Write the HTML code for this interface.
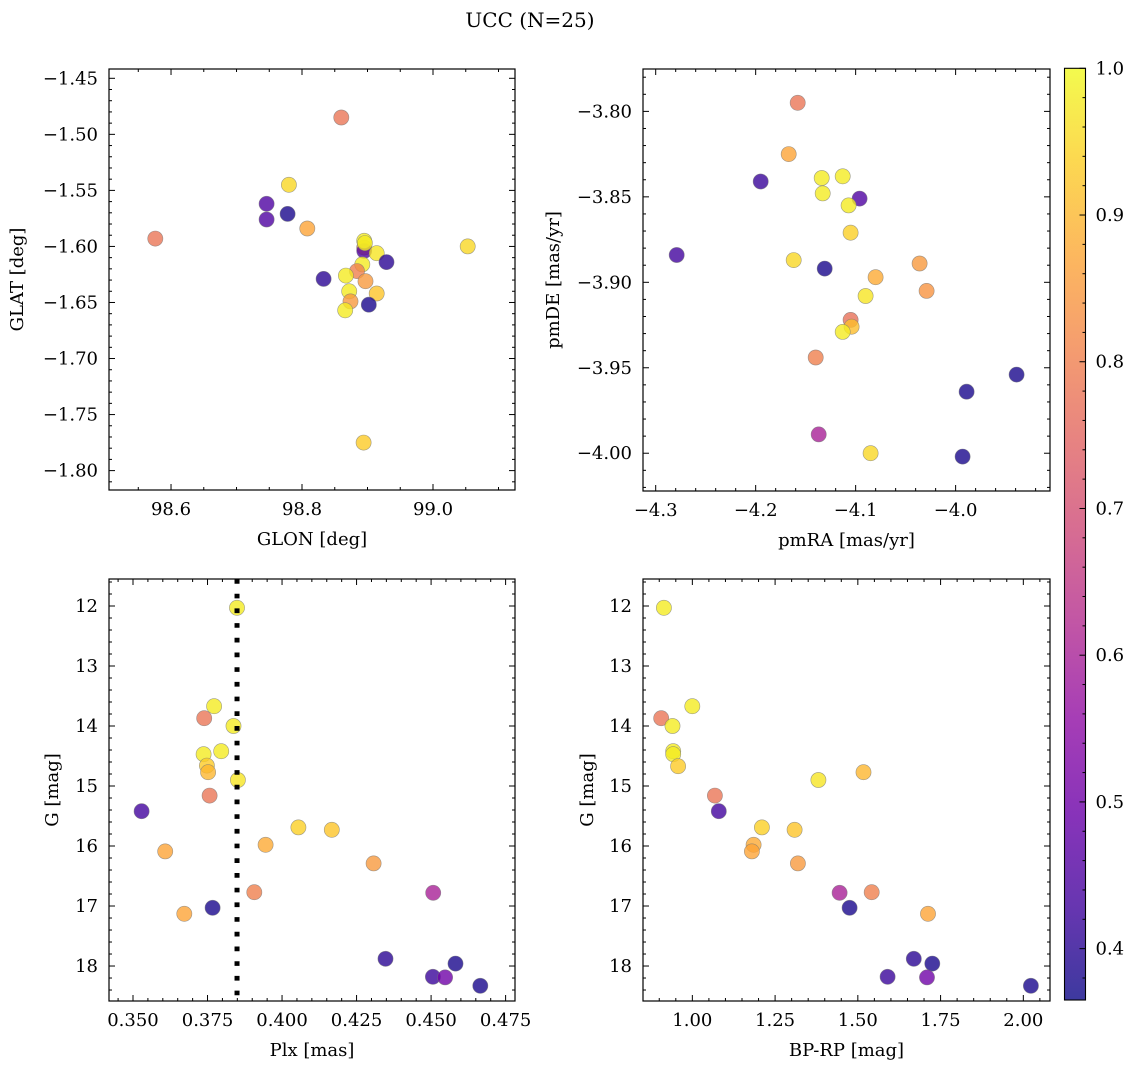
<!DOCTYPE html>
<html>
<head>
<meta charset="utf-8">
<style>
html,body{margin:0;padding:0;background:#fff;}
svg{display:block;font-family:"DejaVu Serif","Liberation Serif",serif;}
</style>
</head>
<body>
<svg id="fig" width="1136" height="1068" viewBox="0 0 1136 1068" xmlns="http://www.w3.org/2000/svg">
<defs>
<linearGradient id="plasma" x1="0" y1="1" x2="0" y2="0">
<stop offset="0" stop-color="#0d0887"/><stop offset="0.1" stop-color="#41049d"/><stop offset="0.2" stop-color="#6a00a8"/><stop offset="0.3" stop-color="#8f0da4"/><stop offset="0.4" stop-color="#b12a90"/><stop offset="0.5" stop-color="#cc4778"/><stop offset="0.6" stop-color="#e16462"/><stop offset="0.7" stop-color="#f2844b"/><stop offset="0.8" stop-color="#fca636"/><stop offset="0.9" stop-color="#fcce25"/><stop offset="1" stop-color="#f0f921"/>
</linearGradient>
</defs>
<text x="530" y="27" font-size="20" text-anchor="middle">UCC (N=25)</text>
</svg>
<script>
// Panel 1 data (GLON / GLAT)
const glon = [98.780,98.746,98.746,98.778,98.808,98.576,98.895,98.895,98.895,98.914,99.053,98.929,98.892,98.884,98.867,98.833,98.897,98.872,98.914,98.874,98.902,98.866,98.894,98.860,98.896];
const glat = [-1.545,-1.562,-1.576,-1.571,-1.584,-1.593,-1.601,-1.604,-1.595,-1.606,-1.600,-1.614,-1.616,-1.622,-1.626,-1.629,-1.631,-1.640,-1.642,-1.649,-1.652,-1.657,-1.775,-1.485,-1.597];
const prob1 = [0.95,0.45,0.45,0.38,0.87,0.78,0.85,0.45,0.98,0.97,0.95,0.40,0.98,0.80,0.98,0.40,0.85,0.98,0.92,0.85,0.38,0.98,0.93,0.78,0.98];
// Panel 2 data (pmRA / pmDE)
const pmra = [-4.158,-4.167,-4.195,-4.134,-4.113,-4.133,-4.096,-4.107,-4.105,-4.279,-4.162,-4.131,-4.036,-4.080,-4.029,-4.090,-4.105,-4.104,-4.113,-4.140,-3.989,-3.939,-4.137,-4.085,-3.993];
const pmde = [-3.795,-3.825,-3.841,-3.839,-3.838,-3.848,-3.851,-3.855,-3.871,-3.884,-3.887,-3.892,-3.889,-3.897,-3.905,-3.908,-3.922,-3.926,-3.929,-3.944,-3.964,-3.954,-3.989,-4.000,-4.002];
const prob2 = [0.78,0.87,0.42,0.98,0.98,0.98,0.45,0.98,0.94,0.43,0.95,0.38,0.85,0.88,0.84,0.97,0.77,0.91,0.98,0.80,0.38,0.38,0.60,0.95,0.38];
// Panel 3 data (Plx / G)
const plx = [0.3849,0.3772,0.3739,0.3837,0.3796,0.3737,0.3748,0.3752,0.3852,0.3757,0.3529,0.4055,0.4167,0.3945,0.3608,0.4307,0.3907,0.4507,0.3767,0.3672,0.4347,0.4582,0.4506,0.4547,0.4665];
const gmag3 = [12.03,13.67,13.87,14.00,14.42,14.47,14.66,14.77,14.90,15.16,15.42,15.69,15.73,15.98,16.09,16.29,16.77,16.78,17.03,17.13,17.88,17.96,18.18,18.19,18.33];
const prob3 = [0.98,0.98,0.78,0.98,0.98,0.98,0.93,0.90,0.97,0.78,0.43,0.94,0.92,0.88,0.87,0.85,0.80,0.60,0.38,0.87,0.40,0.38,0.42,0.50,0.38];
const plxLine = [0.3849];
// Panel 4 data (BP-RP / G)
const bprp = [0.914,1.000,0.906,0.940,0.942,0.942,0.957,1.381,1.517,1.068,1.080,1.210,1.309,1.185,1.180,1.319,1.445,1.542,1.475,1.712,1.669,1.725,1.590,1.709,2.023];
const gmag4 = [12.03,13.67,13.87,14.00,14.42,14.47,14.67,14.90,14.77,15.16,15.42,15.69,15.73,15.98,16.09,16.29,16.78,16.77,17.03,17.13,17.88,17.96,18.18,18.19,18.33];
const prob4 = [0.98,0.98,0.78,0.98,0.98,0.98,0.93,0.97,0.90,0.78,0.43,0.94,0.92,0.88,0.87,0.85,0.60,0.80,0.38,0.87,0.40,0.38,0.42,0.50,0.38];
// Tick labels
const ticks1x = [98.6,98.8,99.0];
const ticks1y = [-1.45,-1.50,-1.55,-1.60,-1.65,-1.70,-1.75,-1.80];
const ticks2x = [-4.3,-4.2,-4.1,-4.0];
const ticks2y = [-3.80,-3.85,-3.90,-3.95,-4.00];
const ticks3x = [0.350,0.375,0.400,0.425,0.450,0.475];
const ticksG = [12,13,14,15,16,17,18];
const ticks4x = [1.00,1.25,1.50,1.75,2.00];
const ticksCb = [0.4,0.5,0.6,0.7,0.8,0.9,1.0];
const cbRange = [0.365,1.0];

const NS = "http://www.w3.org/2000/svg";
const svg = document.getElementById('fig');
function mk(tag, attrs, parent){
  const e = document.createElementNS(NS, tag);
  for (const k in attrs) e.setAttribute(k, attrs[k]);
  (parent||svg).appendChild(e);
  return e;
}
const stops = ["#0d0887","#41049d","#6a00a8","#8f0da4","#b12a90","#cc4778","#e16462","#f2844b","#fca636","#fcce25","#f0f921"];
function hex(h){return [parseInt(h.substr(1,2),16),parseInt(h.substr(3,2),16),parseInt(h.substr(5,2),16)];}
function plasma(v){
  let t = (v-cbRange[0])/(cbRange[1]-cbRange[0]);
  t = Math.max(0,Math.min(1,t))*10;
  const i = Math.min(9,Math.floor(t)), f = t-i;
  const a = hex(stops[i]), b = hex(stops[i+1]);
  return "rgb("+a.map((c,k)=>Math.round(c+(b[k]-c)*f)).join(",")+")";
}
function lin(d0,d1,r0,r1){return v=>r0+(v-d0)/(d1-d0)*(r1-r0);}
function fmt(v,dec){const s=v.toFixed(dec);return s.replace('-','\u2212');}

function panel(cfg){
  const {x0,x1,y0,y1,xd,yd,xt,yt,xminor,yminor,xdec,ydec,name} = cfg;
  const sx = lin(xd[0],xd[1],x0,x1), sy = lin(yd[0],yd[1],y0,y1);
  const g = mk('g',{});
  
  
  const pg = mk('g',{},g);
  
  
  for (let i=0;i<cfg.xs.length;i++){
    const c = mk('circle',{cx:sx(cfg.xs[i]).toFixed(1),cy:sy(cfg.ys[i]).toFixed(1),r:7.6,fill:plasma(cfg.cs[i]),'fill-opacity':0.8,stroke:'#777','stroke-opacity':0.7,'stroke-width':0.6},pg);
    
    
  }
  if (cfg.vline){
    for (const v of cfg.vline){
      const l = mk('line',{x1:sx(v),x2:sx(v),y1:y0,y2:y1,stroke:'#000','stroke-width':5,'stroke-dasharray':'4.7 10'},g);
      
      
    }
  }
  const fr = mk('rect',{x:x0,y:Math.min(y0,y1),width:x1-x0,height:Math.abs(y1-y0),fill:'none',stroke:'#000','stroke-width':1.2},g);
  
  
  const top = Math.min(y0,y1), bot = Math.max(y0,y1);
  const xmin = Math.min(...xd), xmax = Math.max(...xd);
  for (let v=Math.ceil(xmin/xminor-1e-6)*xminor; v<=xmax+1e-9; v+=xminor){
    const X = sx(v);
    const isMaj = xt.some(t=>Math.abs(t-v)<xminor*0.1);
    const L = isMaj?6:3;
    mk('line',{x1:X,x2:X,y1:bot,y2:bot-L,stroke:'#000','stroke-width':1},g);
    mk('line',{x1:X,x2:X,y1:top,y2:top+L,stroke:'#000','stroke-width':1},g);
  }
  xt.forEach(t=>{
    const tx = mk('text',{x:sx(t),y:bot+25,'font-size':18,'text-anchor':'middle'},g);
    tx.textContent = fmt(t,xdec);
    
    
  });
  const ymin = Math.min(...yd), ymax = Math.max(...yd);
  for (let v=Math.ceil(ymin/yminor-1e-6)*yminor; v<=ymax+1e-9; v+=yminor){
    const Y = sy(v);
    const isMaj = yt.some(t=>Math.abs(t-v)<yminor*0.1);
    const L = isMaj?6:3;
    mk('line',{x1:x0,x2:x0+L,y1:Y,y2:Y,stroke:'#000','stroke-width':1},g);
    mk('line',{x1:x1,x2:x1-L,y1:Y,y2:Y,stroke:'#000','stroke-width':1},g);
  }
  yt.forEach(t=>{
    const ty = mk('text',{x:x0-11,y:sy(t)+6,'font-size':18,'text-anchor':'end'},g);
    ty.textContent = fmt(t,ydec);
    
    
  });
  const xl = mk('text',{x:(x0+x1)/2,y:bot+55,'font-size':18,'text-anchor':'middle'},g);
  xl.textContent = cfg.xlabel;
  
  
  const yl = mk('text',{x:0,y:0,'font-size':18,'text-anchor':'middle',transform:'translate('+cfg.ylx+','+(top+bot)/2+') rotate(-90)'},g);
  yl.textContent = cfg.ylabel;
  
  
}

panel({name:'glon-glat',x0:109,x1:515,y0:69,y1:490,xd:[98.5053,99.1252],yd:[-1.4417,-1.8173],xt:ticks1x,yt:ticks1y,xminor:0.05,yminor:0.01,xdec:1,ydec:2,xs:glon,ys:glat,cs:prob1,xlabel:'GLON [deg]',ylabel:'GLAT [deg]',ylx:23});
panel({name:'pm',x0:643,x1:1050,y0:69,y1:491,xd:[-4.3127,-3.9056],yd:[-3.7752,-4.0221],xt:ticks2x,yt:ticks2y,xminor:0.02,yminor:0.01,xdec:1,ydec:2,xs:pmra,ys:pmde,cs:prob2,xlabel:'pmRA [mas/yr]',ylabel:'pmDE [mas/yr]',ylx:559});
panel({name:'plx-g',x0:109,x1:515,y0:579,y1:1001,xd:[0.34195,0.47815],yd:[11.55,18.583],xt:ticks3x,yt:ticksG,xminor:0.005,yminor:0.2,xdec:3,ydec:0,xs:plx,ys:gmag3,cs:prob3,vline:plxLine,xlabel:'Plx [mas]',ylabel:'G [mag]',ylx:58});
panel({name:'cmd',x0:643,x1:1050,y0:579,y1:1001,xd:[0.8509,2.0806],yd:[11.55,18.583],xt:ticks4x,yt:ticksG,xminor:0.05,yminor:0.2,xdec:2,ydec:0,xs:bprp,ys:gmag4,cs:prob4,xlabel:'BP-RP [mag]',ylabel:'G [mag]',ylx:593});

const cb = mk('g',{});


const cbx0=1064.5, cbx1=1085.5, cby0=68.3, cby1=1000;
const cs = lin(cbRange[0],cbRange[1],cby1,cby0);
mk('rect',{x:cbx0,y:cby0,width:cbx1-cbx0,height:cby1-cby0,fill:'url(#plasma)','fill-opacity':0.8},cb);
mk('rect',{x:cbx0,y:cby0,width:cbx1-cbx0,height:cby1-cby0,fill:'none',stroke:'#000','stroke-width':1.1},cb);
for (let v=0.38; v<=1.0001; v+=0.02){
  const Y = cs(v);
  const maj = ticksCb.some(t=>Math.abs(t-v)<0.002);
  mk('line',{x1:cbx1,x2:cbx1-(maj?6:3),y1:Y,y2:Y,stroke:'#000','stroke-width':1},cb);
}
ticksCb.forEach(t=>{
  const tx = mk('text',{x:cbx1+10,y:cs(t)+6,'font-size':18},cb);
  tx.textContent = t.toFixed(1);
  
  
});
</script>
</body>
</html>
